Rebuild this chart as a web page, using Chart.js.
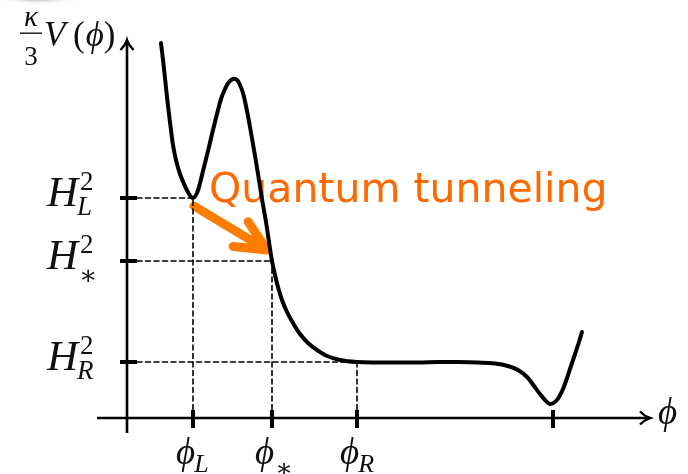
<!DOCTYPE html>
<html>
<head>
<meta charset="utf-8">
<script src="https://cdn.jsdelivr.net/npm/chart.js@4/dist/chart.umd.min.js"></script>
<style>
  html, body { margin: 0; padding: 0; background: #ffffff; }
  #wrap { width: 688px; height: 474px; }
</style>
</head>
<body>
<div id="wrap"><canvas id="pot" width="688" height="474"></canvas></div>
<script>
// Field values (phi) and scaled potential (kappa/3 * V) along the curve
const phi = [3.4, 3.6, 3.8, 4.0, 4.2, 4.4, 4.6, 4.9, 5.3, 5.8, 6.2, 6.6,
             7.0, 7.3, 7.6, 7.9, 8.2, 8.5, 8.8, 9.1, 9.4, 9.8, 10.2, 10.6,
             11.0, 11.3, 11.6, 11.9, 12.3, 12.7, 13.1, 13.5, 13.9, 14.2, 14.5,
             14.8, 15.1, 15.5, 16.0, 16.6, 17.3, 18.1, 19.0, 20.0, 21.3, 23.0,
             25.1, 27.1, 29.1, 31.1, 33.1, 35.1, 36.8, 38.1, 39.1, 40.0, 40.7, 41.3, 41.8, 42.3,
             42.8, 43.2, 43.6, 44.0, 44.4, 44.8, 45.2, 45.5];
const potential = [37.5, 35.8, 34.0, 32.1, 30.4, 28.8, 27.3, 25.8, 24.4, 23.2, 22.4, 22.0,
                   22.5, 23.5, 24.7, 25.9, 27.1, 28.4, 29.6, 30.8, 31.9, 32.9, 33.6, 33.9,
                   33.8, 33.3, 32.5, 31.2, 29.1, 26.8, 24.4, 21.9, 19.6, 17.6, 15.7,
                   14.3, 13.1, 11.8, 10.6, 9.5, 8.4, 7.5, 6.8, 6.2, 5.8, 5.6,
                   5.55, 5.55, 5.55, 5.6, 5.6, 5.55, 5.45, 5.2, 4.8, 4.1, 3.2, 2.4, 1.8, 1.4,
                   1.6, 2.1, 2.9, 4.0, 5.2, 6.4, 7.6, 8.6];

// Marked field values on the phi axis and their subscripts
const phiTicks = [6.6, 14.5, 23.0, 42.6];
const phiTickSubs = ['L', '\u2217', 'R', null];

// Marked Hubble-rate levels on the vertical axis (index-matched to the first three phi ticks)
const hTicks = [22.0, 15.7, 5.6];
const hTickSubs = ['L', '\u2217', 'R'];

const annotationText = 'Quantum tunneling';

const X_MIN = -3.0, X_MAX = 52.3, Y_MIN = -1.5, Y_MAX = 37.8;
const SERIF = "'Liberation Serif','DejaVu Serif',serif";

// dashed guide segments from each level to its point on the curve
const guideSets = [];
hTicks.forEach((h, i) => {
  guideSets.push({ data: [{ x: 1.0, y: h }, { x: phiTicks[i], y: h }] });
  guideSets.push({ data: [{ x: phiTicks[i], y: 0 }, { x: phiTicks[i], y: h }] });
});

function drawMath(ctx, x, y, base, sub, sup, size, subSize) {
  ctx.save();
  ctx.fillStyle = '#111';
  ctx.textBaseline = 'alphabetic';
  ctx.textAlign = 'left';
  ctx.font = 'italic ' + size + 'px ' + SERIF;
  ctx.fillText(base, x, y);
  const w = ctx.measureText(base).width;
  const s = subSize || Math.round(size * 0.66);
  if (sup) {
    ctx.font = s + 'px ' + SERIF;
    ctx.fillText(sup, x + w + 2, y - size * 0.38);
  }
  if (sub) {
    const isStar = sub === '\u2217';
    ctx.font = (isStar ? '' : 'italic ') + s + 'px ' + SERIF;
    ctx.fillText(sub, x + w + (isStar ? 1 : -1), y + size * (isStar ? 0.34 : 0.22));
  }
  ctx.restore();
}

const decorPlugin = {
  id: 'decor',
  beforeDraw(chart) {
    const ctx = chart.ctx;
    ctx.save();
    ctx.fillStyle = '#ffffff';
    ctx.fillRect(0, 0, chart.width, chart.height);
    // soft grey smudge along the top-left edge
    ctx.translate(38, -6);
    ctx.scale(1, 0.22);
    const g = ctx.createRadialGradient(0, 0, 0, 0, 0, 48);
    g.addColorStop(0, 'rgba(110,110,110,0.85)');
    g.addColorStop(0.6, 'rgba(150,150,150,0.45)');
    g.addColorStop(1, 'rgba(255,255,255,0)');
    ctx.fillStyle = g;
    ctx.beginPath();
    ctx.arc(0, 0, 48, 0, Math.PI * 2);
    ctx.fill();
    ctx.restore();
  },
  beforeDatasetsDraw(chart) {
    const ctx = chart.ctx;
    const xs = chart.scales.x, ys = chart.scales.y;
    const x0 = xs.getPixelForValue(0), y0 = ys.getPixelForValue(0);
    ctx.save();
    ctx.strokeStyle = '#000';
    ctx.lineCap = 'butt';
    // axes
    ctx.lineWidth = 2.6;
    ctx.beginPath();
    ctx.moveTo(xs.left, y0); ctx.lineTo(xs.right - 2, y0);
    ctx.moveTo(x0, ys.bottom); ctx.lineTo(x0, ys.top + 2);
    ctx.stroke();
    // arrow heads
    ctx.lineWidth = 2.4;
    ctx.beginPath();
    ctx.moveTo(xs.right - 10, y0 - 6.5); ctx.quadraticCurveTo(xs.right - 5, y0 - 1.5, xs.right, y0);
    ctx.quadraticCurveTo(xs.right - 5, y0 + 1.5, xs.right - 10, y0 + 6.5);
    ctx.moveTo(x0 - 6.5, ys.top + 10); ctx.quadraticCurveTo(x0 - 1.5, ys.top + 5, x0, ys.top);
    ctx.quadraticCurveTo(x0 + 1.5, ys.top + 5, x0 + 6.5, ys.top + 10);
    ctx.stroke();
    // tick marks on the phi axis
    ctx.lineWidth = 4;
    phiTicks.forEach(v => {
      const px = xs.getPixelForValue(v);
      ctx.beginPath(); ctx.moveTo(px, y0 - 8); ctx.lineTo(px, y0 + 10); ctx.stroke();
    });
    // tick marks on the potential axis
    hTicks.forEach(v => {
      const py = ys.getPixelForValue(v);
      ctx.beginPath(); ctx.moveTo(x0 - 7, py); ctx.lineTo(x0 + 10, py); ctx.stroke();
    });
    ctx.restore();

    // level labels H^2 with subscripts
    hTicks.forEach((v, i) => {
      const py = ys.getPixelForValue(v);
      drawMath(ctx, 47, py + 8, 'H', hTickSubs[i], '2', 43, 27);
    });
    // field labels phi with subscripts
    phiTicks.forEach((v, i) => {
      if (!phiTickSubs[i]) return;
      const px = xs.getPixelForValue(v);
      drawMath(ctx, px - 17, 464, '\u03D5', phiTickSubs[i], null, 37, 26);
    });
    // axis titles
    drawMath(ctx, xs.right + 8, y0 + 6, '\u03D5', null, null, 37);
    ctx.save();
    ctx.fillStyle = '#111';
    ctx.textAlign = 'center';
    ctx.font = 'italic 29px ' + SERIF;
    ctx.fillText('\u03BA', 31, 26);
    ctx.font = '27px ' + SERIF;
    ctx.fillText('3', 31, 65);
    ctx.fillRect(20, 32.5, 22, 1.4);
    ctx.textAlign = 'left';
    ctx.font = 'italic 35px ' + SERIF;
    ctx.fillText('V', 44, 46);
    ctx.font = '35px ' + SERIF;
    ctx.fillText('(', 73, 46);
    const pw = ctx.measureText('(').width;
    ctx.font = 'italic 35px ' + SERIF;
    ctx.fillText('\u03D5', 73 + pw + 1, 46);
    const fw = ctx.measureText('\u03D5').width;
    ctx.font = '35px ' + SERIF;
    ctx.fillText(')', 73 + pw + fw + 1, 46);
    ctx.restore();

    // tunneling arrow from the false vacuum to the exit point
    const ax = xs.getPixelForValue(phiTicks[0]) + 1, ay = ys.getPixelForValue(hTicks[0]) + 8;
    const bx = xs.getPixelForValue(phiTicks[1]) - 5, by = ys.getPixelForValue(hTicks[1]) - 11;
    const ang = Math.atan2(by - ay, bx - ax);
    ctx.save();
    ctx.strokeStyle = '#ff7c00';
    ctx.lineWidth = 9;
    ctx.lineCap = 'round';
    ctx.lineJoin = 'round';
    ctx.beginPath();
    ctx.moveTo(ax, ay); ctx.lineTo(bx, by);
    ctx.moveTo(bx - 34 * Math.cos(ang - 0.44), by - 34 * Math.sin(ang - 0.44));
    ctx.lineTo(bx, by);
    ctx.lineTo(bx - 34 * Math.cos(ang + 0.44), by - 34 * Math.sin(ang + 0.44));
    ctx.stroke();
    ctx.fillStyle = '#ff6a00';
    ctx.font = "41px 'DejaVu Sans', Verdana, sans-serif";
    ctx.textBaseline = 'alphabetic';
    ctx.fillText(annotationText, 209, 202);
    ctx.restore();
  }
};

new Chart(document.getElementById('pot'), {
  type: 'scatter',
  data: {
    datasets: [
      ...guideSets.map(s => ({
        data: s.data,
        showLine: true,
        borderColor: '#000',
        borderWidth: 1.6,
        borderDash: [5, 3.5],
        pointRadius: 0,
        fill: false
      })),
      {
        data: phi.map((p, i) => ({ x: p, y: potential[i] })),
        showLine: true,
        borderColor: '#000',
        borderWidth: 4,
        tension: 0.4,
        pointRadius: 0,
        fill: false
      }
    ]
  },
  options: {
    responsive: false,
    animation: false,
    devicePixelRatio: 1,
    layout: { padding: { left: 97, right: 38, top: 40, bottom: 41 } },
    scales: {
      x: { type: 'linear', min: X_MIN, max: X_MAX, display: false },
      y: { type: 'linear', min: Y_MIN, max: Y_MAX, display: false }
    },
    plugins: { legend: { display: false }, tooltip: { enabled: false } },
    elements: { line: { borderCapStyle: 'round', borderJoinStyle: 'round' } }
  },
  plugins: [decorPlugin]
});
</script>
</body>
</html>
